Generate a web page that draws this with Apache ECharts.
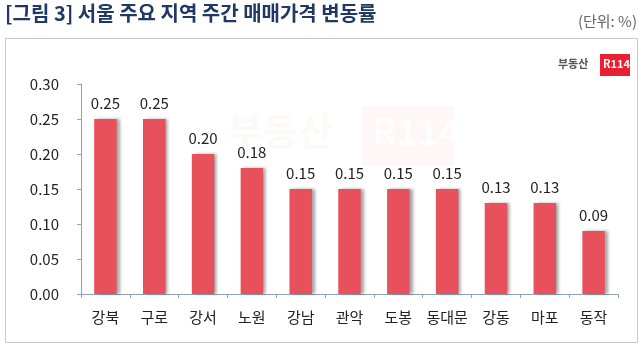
<!DOCTYPE html>
<html><head><meta charset="utf-8">
<script src="https://cdn.jsdelivr.net/npm/echarts@6/dist/echarts.min.js"></script>
<style>html,body{margin:0;padding:0;background:#fff}#c{width:644px;height:361px}</style>
</head><body><div id="c"></div>
<script>
const categories = ['강북','구로','강서','노원','강남','관악','도봉','동대문','강동','마포','동작'];
const values = [0.25,0.25,0.20,0.18,0.15,0.15,0.15,0.15,0.13,0.13,0.09];
const yTicks = {min:0, max:0.30, interval:0.05};
const FONT = '"Noto Sans CJK KR","Noto Sans",sans-serif';
const chart = echarts.init(document.getElementById('c'));
chart.setOption({
  animation:false,
  textStyle:{fontFamily:FONT},
  graphic:[
    {type:'text', left:5, top:3, style:{text:'[그림 3] 서울 주요 지역 주간 매매가격 변동률', font:'bold 20px '+FONT, fill:'#1F3864'}},
    {type:'text', right:7, top:14, style:{text:'(단위: %)', font:'15px '+FONT, fill:'#666'}},
    {type:'rect', shape:{x:5.5, y:38.5, width:632, height:304}, style:{fill:'none', stroke:'#c8c8c8', lineWidth:1}},
    {type:'text', left:558, top:58, style:{text:'부동산', font:'bold 11px '+FONT, fill:'#555'}},
    {type:'rect', shape:{x:600, y:54, width:30, height:22}, style:{fill:'#E8202F'}},
    {type:'text', left:603, top:58, style:{text:'R114', font:'bold 11px '+FONT, fill:'#fff'}},
    {type:'text', left:228, top:112, style:{text:'부동산', font:'bold 38px '+FONT, fill:'rgba(232,80,91,0.035)'}, z:-1},
    {type:'rect', shape:{x:362, y:106, width:92, height:60}, style:{fill:'rgba(232,80,91,0.05)'}, z:-1},
    {type:'text', left:372, top:113, style:{text:'R114', font:'bold 36px '+FONT, fill:'rgba(255,255,255,0.7)'}, z:-1}
  ],
  grid:{left:81, right:26, top:84, bottom:67},
  xAxis:{
    type:'category', data:categories,
    axisLine:{lineStyle:{color:'#8EA3B8'}},
    axisTick:{show:true, length:4, lineStyle:{color:'#8EA3B8'}},
    axisLabel:{interval:0, color:'#222', fontSize:15, margin:16, fontFamily:FONT}
  },
  yAxis:{
    type:'value', min:yTicks.min, max:yTicks.max, interval:yTicks.interval,
    axisLine:{show:true, lineStyle:{color:'#8EA3B8'}},
    axisTick:{show:true, length:4, lineStyle:{color:'#8EA3B8'}},
    splitLine:{show:false},
    axisLabel:{color:'#222', fontSize:15, margin:22, fontFamily:FONT, formatter:v=>v.toFixed(2)}
  },
  series:[{
    type:'bar', data:values, barWidth:'46%',
    itemStyle:{color:'#E8505B', shadowColor:'rgba(0,0,0,0.35)', shadowOffsetX:3, shadowOffsetY:0, shadowBlur:3},
    label:{show:true, position:'top', distance:8, color:'#222', fontSize:15, fontFamily:FONT, formatter:p=>p.value.toFixed(2)}
  }]
});
</script></body></html>
